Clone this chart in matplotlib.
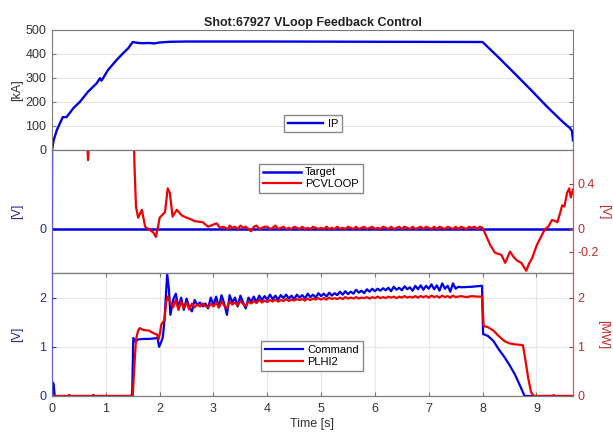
import matplotlib
matplotlib.use("Agg")
import matplotlib.pyplot as plt
import numpy as np

# ---------------- data ----------------
# top panel: plasma current IP [kA]
ip_t = [0, 0.03, 0.09, 0.2, 0.27, 0.4, 0.52, 0.67, 0.83, 0.89, 0.92, 1.04, 1.2, 1.32, 1.42, 1.5,
        1.6, 1.7, 1.8, 1.9, 2.0, 2.2, 2.5, 4.0, 6.0, 8.0,
        8.3, 8.6, 8.9, 9.2, 9.5, 9.62, 9.66, 9.68]
ip_ka = [0, 40, 83, 137, 137, 175, 201, 243, 278, 299, 289, 333, 375, 403, 425, 450,
         446, 445, 446, 444, 448, 451, 452, 452, 451, 450,
         385, 318, 250, 180, 115, 92, 80, 40]

# middle panel: target (left axis) and PCVLOOP (right axis) [V]
target_t = [0, 9.7]
target_v = [0, 0]

pcv_t_a = [0, 0.005, 0.6, 0.64, 0.67, 0.7, 0.74, 1.5, 1.53, 1.56, 1.6, 1.67, 1.73, 1.82, 1.88,
           1.93, 1.97, 2.0, 2.1, 2.15, 2.19, 2.24, 2.32, 2.41, 2.5, 2.56, 2.65, 2.8, 2.9,
           3.0, 3.06, 3.12, 3.18, 3.27]
pcv_v_a = [0, 1.5, 1.5, 0.9, 0.61, 0.9, 1.5, 1.5, 0.6, 0.2, 0.1, 0.17, 0.02, -0.01, -0.03,
           -0.07, 0.02, 0.1, 0.15, 0.36, 0.32, 0.11, 0.17, 0.12, 0.1, 0.09, 0.07, 0.06, 0.02,
           0.04, 0.05, 0.01, 0.02, 0.0]
# flat-top wiggle, one sample every 0.05 s from 3.30 s
pcv_flat = [0.03, 0.01, 0.02, 0.00, 0.03, 0.01, 0.02, 0.00, -0.02, 0.02,
            0.03, 0.00, 0.01, 0.02, 0.02, 0.00, 0.01, 0.03, 0.00, 0.01,
            0.02, 0.00, 0.01, 0.00, 0.02, 0.01, 0.00, 0.02, 0.00, 0.01,
            0.00, 0.02, 0.01, 0.00, 0.01, 0.00, 0.02, 0.00, 0.01, 0.00,
            0.02, 0.00, 0.01, 0.00, 0.02, 0.01, 0.00, 0.02, 0.00, 0.01,
            0.02, 0.00, 0.01, 0.02, 0.00, 0.01, 0.00, 0.02, 0.01, 0.00,
            0.02, 0.00, 0.01, 0.02, 0.00, 0.02, 0.01, 0.00, 0.02, 0.00,
            0.01, 0.02, 0.00, 0.02, 0.01, 0.00, 0.02, 0.00, 0.02, 0.01,
            0.00, 0.02, 0.01, 0.00, 0.02, 0.00, 0.02, 0.01, 0.00, 0.02,
            0.01, 0.02, 0.00, 0.02]
pcv_t_b = [8.0, 8.14, 8.23, 8.35, 8.42, 8.51, 8.58, 8.64, 8.72, 8.81, 8.87, 8.92, 9.01, 9.16,
           9.22, 9.29, 9.35, 9.39, 9.44, 9.48, 9.52, 9.57, 9.61, 9.64, 9.68]
pcv_v_b = [0.01, -0.14, -0.21, -0.23, -0.3, -0.2, -0.25, -0.28, -0.3, -0.37, -0.3, -0.26, -0.14, 0.0,
           0.02, 0.08, 0.07, 0.06, 0.14, 0.21, 0.2, 0.32, 0.36, 0.28, 0.35]

# bottom panel: Command [V] (left) and PLHI2 [MW] (right)
cmd_t_a = [0, 0.01, 0.03, 0.05, 0.3, 0.32, 0.34, 0.75, 0.77, 0.79, 1.47, 1.49, 1.51, 1.55, 1.6,
           1.7, 1.8, 1.9, 1.96, 1.99, 2.03, 2.06, 2.09, 2.12, 2.14, 2.17, 2.2]
cmd_v_a = [0, 0.28, 0.25, 0.0, 0.0, 0.02, 0.0, 0.0, 0.02, 0.0, 0.0, 0.05, 1.18, 1.1, 1.15,
           1.16, 1.16, 1.17, 1.18, 1.0, 1.1, 1.2, 1.55, 2.1, 2.48, 2.2, 1.65]
# one sample every 0.05 s from 2.25 s to 7.50 s
cmd_flat = [1.95, 2.08, 1.80, 2.00, 1.75, 1.98, 1.80, 1.72, 1.95, 1.85,
            1.90, 1.82, 1.88, 1.78, 2.00, 1.85, 2.02, 1.80, 2.05, 1.88,
            1.65, 2.05, 1.90, 2.00, 1.82, 2.04, 1.90, 1.78, 2.00, 1.92,
            2.02, 1.90, 2.04, 1.95, 2.03, 1.96, 2.06, 1.97, 2.04, 1.96,
            2.05, 1.99, 2.06, 1.98, 2.04, 1.97, 2.06, 2.00, 2.05, 1.98,
            2.08, 2.01, 2.06, 2.00, 2.09, 2.03, 2.08, 2.02, 2.10, 2.04,
            2.09, 2.05, 2.12, 2.06, 2.13, 2.07, 2.12, 2.08, 2.16, 2.10,
            2.14, 2.09, 2.17, 2.12, 2.18, 2.13, 2.18, 2.14, 2.19, 2.15,
            2.20, 2.13, 2.22, 2.16, 2.20, 2.15, 2.23, 2.17, 2.21, 2.14,
            2.24, 2.17, 2.25, 2.16, 2.24, 2.18, 2.27, 2.17, 2.25, 2.14,
            2.29, 2.18, 2.24, 2.12, 2.29, 2.18]
cmd_t_b = [7.55, 7.6, 7.8, 7.99, 8.01, 8.1, 8.2, 8.3, 8.4, 8.5, 8.6, 8.7, 8.78, 9.68]
cmd_v_b = [2.22, 2.21, 2.22, 2.24, 1.26, 1.22, 1.12, 0.95, 0.8, 0.63, 0.44, 0.2, 0.0, 0.0]

plh_t_a = [0, 0.3, 0.32, 0.34, 1.5, 1.53, 1.56, 1.6, 1.63, 1.7, 1.8, 1.85, 1.9, 1.95, 1.98,
           2.01, 2.03, 2.06, 2.09, 2.12, 2.15, 2.2]
plh_v_a = [0, 0, 0.02, 0, 0, 0.6, 1.15, 1.33, 1.38, 1.34, 1.33, 1.3, 1.27, 1.25, 1.15,
           1.3, 1.45, 1.5, 1.55, 1.9, 2.02, 1.9]
plh_flat = [1.80, 1.95, 1.75, 1.92, 1.78, 1.90, 1.76, 1.88, 1.80, 1.86,
            1.82, 1.88, 1.83, 1.80, 1.87, 1.82, 1.90, 1.80, 1.92, 1.84,
            1.78, 1.92, 1.86, 1.90, 1.84, 1.93, 1.87, 1.83, 1.92, 1.88,
            1.93, 1.89, 1.95, 1.90, 1.94, 1.91, 1.95, 1.92, 1.96, 1.92,
            1.95, 1.93, 1.97, 1.93, 1.96, 1.94, 1.97, 1.95, 1.97, 1.94,
            1.98, 1.95, 1.98, 1.96, 1.99, 1.96, 1.99, 1.96, 2.00, 1.97,
            1.99, 1.97, 2.00, 1.97, 2.01, 1.98, 2.00, 1.98, 2.01, 1.98,
            2.00, 1.99, 2.01, 1.98, 2.01, 1.99, 2.02, 1.99, 2.01, 1.99,
            2.02, 2.00, 2.02, 1.99, 2.02, 2.00, 2.03, 2.00, 2.02, 2.00,
            2.03, 2.00, 2.03, 2.01, 2.03, 2.00, 2.04, 2.01, 2.03, 2.00,
            2.04, 2.01, 2.03, 2.00, 2.04, 2.01]
plh_t_b = [7.6, 7.7, 7.8, 7.9, 7.99, 8.02, 8.1, 8.2, 8.3, 8.4, 8.5, 8.6, 8.7, 8.75, 8.8,
           8.85, 8.9, 8.95, 9.3, 9.32, 9.34, 9.68]
plh_v_b = [2.03, 2.01, 2.03, 2.02, 2.02, 1.42, 1.4, 1.33, 1.22, 1.12, 1.07, 1.05, 1.04, 1.03, 0.7,
           0.35, 0.08, 0.0, 0.0, 0.02, 0.0, 0.0]

x_ticks = [0, 1, 2, 3, 4, 5, 6, 7, 8, 9]

# ---------------- build full series ----------------
pcv_t = pcv_t_a + [round(3.30 + 0.05 * i, 2) for i in range(len(pcv_flat))] + pcv_t_b
pcv_v = pcv_v_a + pcv_flat + pcv_v_b
cmd_t = cmd_t_a + [round(2.25 + 0.05 * i, 2) for i in range(len(cmd_flat))] + cmd_t_b
cmd_v = cmd_v_a + cmd_flat + cmd_v_b
plh_t = plh_t_a + [round(2.25 + 0.05 * i, 2) for i in range(len(plh_flat))] + plh_t_b
plh_v = plh_v_a + plh_flat + plh_v_b

plt.rcParams["font.family"] = ["Liberation Sans", "DejaVu Sans"]
plt.rcParams["font.size"] = 9

BLUE = "#0000e6"
RED = "#f00000"
LBLUE = "#2a2aa0"
LRED = "#c42a2a"
GREY = "#7a7a7a"
TXT = "#333333"
GRID = "#e6e6e6"
TICK_FS = 9
LAB_FS = 9
LEG_FS = 8

fig = plt.figure(figsize=(6.13, 4.38), dpi=100)
L, W = 52 / 613, 521 / 613
ax1 = fig.add_axes([L, 288 / 438, W, 120 / 438])
ax2 = fig.add_axes([L, 165 / 438, W, 123 / 438])
ax3 = fig.add_axes([L, 42 / 438, W, 123 / 438])
ax2r = ax2.twinx()
ax3r = ax3.twinx()

XMAX = 9.68
for ax in (ax1, ax2, ax3):
    ax.set_xlim(0, XMAX)
    ax.set_xticks(x_ticks)

# ---- top panel ----
ax1.plot(ip_t, ip_ka, color=BLUE, lw=1.7, label="IP")
ax1.set_ylim(0, 500)
ax1.set_yticks([0, 100, 200, 300, 400, 500])
ax1.grid(axis="y", color=GRID, lw=0.8)
ax1.tick_params(axis="x", length=0, labelbottom=False)
ax1.tick_params(axis="y", direction="in", right=True, length=3, colors=GREY,
                labelcolor=TXT, labelsize=TICK_FS, pad=4)
for s in ax1.spines.values():
    s.set_color(GREY)
    s.set_linewidth(0.8)
ax1.set_ylabel("[kA]", color=TXT, fontsize=LAB_FS)
ax1.yaxis.set_label_coords(-0.055, 0.5)
ax1.set_title("Shot:67927 VLoop Feedback Control", fontsize=9, fontweight="bold",
              color="#222222", pad=3)
ax1.legend(loc="center", bbox_to_anchor=(0.501, 0.22), fancybox=False, edgecolor="#888888",
           framealpha=1, fontsize=LEG_FS, handlelength=3.2, handletextpad=0.4, borderpad=0.35)

# ---- middle panel ----
ax2.plot(target_t, target_v, color=BLUE, lw=1.8, label="Target")
ax2r.plot(pcv_t, pcv_v, color=RED, lw=1.6, label="PCVLOOP")
for a in (ax2, ax2r):
    a.set_ylim(-0.39, 0.70)
ax2.set_yticks([0])
ax2r.set_yticks([-0.2, 0, 0.4])
ax2r.set_yticklabels(["-0.2", "0", "0.4"])
ax2.tick_params(axis="x", length=0, labelbottom=False)
ax2.tick_params(axis="y", direction="in", length=3, colors=LBLUE, labelsize=TICK_FS, pad=4)
ax2r.tick_params(axis="y", direction="in", length=3, colors=LRED, labelsize=TICK_FS, pad=3)
for a in (ax2, ax2r):
    for s in a.spines.values():
        s.set_color(GREY)
        s.set_linewidth(0.8)
    a.spines["left"].set_color("#6060d0")
    a.spines["right"].set_color("#e05050")
ax2.set_ylabel("[V]", color=LBLUE, fontsize=LAB_FS)
ax2.yaxis.set_label_coords(-0.055, 0.5)
ax2r.set_ylabel("[V]", color=LRED, fontsize=LAB_FS, rotation=270, va="center")
ax2r.yaxis.set_label_coords(1.06, 0.5)
h2 = ax2.get_legend_handles_labels()[0] + ax2r.get_legend_handles_labels()[0]
ax2r.legend(h2, [h.get_label() for h in h2], loc="center", bbox_to_anchor=(0.497, 0.77),
            fancybox=False, edgecolor="#888888", framealpha=1, fontsize=LEG_FS,
            handlelength=3.4, handletextpad=0.4, borderpad=0.35, labelspacing=0.15)

# ---- bottom panel ----
ax3.plot(cmd_t, cmd_v, color=BLUE, lw=1.6, label="Command")
ax3r.plot(plh_t, plh_v, color=RED, lw=1.6, label="PLHI2")
for a in (ax3, ax3r):
    a.set_ylim(0, 2.5)
    a.set_yticks([0, 1, 2])
ax3.grid(color=GRID, lw=0.8)
ax3.set_axisbelow(True)
ax3.tick_params(axis="x", direction="in", top=True, length=3, colors=GREY, labelcolor=TXT,
                labelsize=TICK_FS, pad=5)
ax3.tick_params(axis="y", direction="in", length=3, colors=LBLUE, labelsize=TICK_FS, pad=4)
ax3r.tick_params(axis="y", direction="in", length=3, colors=LRED, labelsize=TICK_FS, pad=3)
for a in (ax3, ax3r):
    for s in a.spines.values():
        s.set_color(GREY)
        s.set_linewidth(0.8)
    a.spines["left"].set_color("#6060d0")
    a.spines["right"].set_color("#e05050")
ax3.set_ylabel("[V]", color=LBLUE, fontsize=LAB_FS)
ax3.yaxis.set_label_coords(-0.055, 0.5)
ax3r.set_ylabel("[MW]", color=LRED, fontsize=LAB_FS, rotation=270, va="center")
ax3r.yaxis.set_label_coords(1.058, 0.5)
ax3.set_xlabel("Time [s]", color=TXT, fontsize=LAB_FS, labelpad=2)
h3 = ax3.get_legend_handles_labels()[0] + ax3r.get_legend_handles_labels()[0]
ax3r.legend(h3, [h.get_label() for h in h3], loc="center", bbox_to_anchor=(0.499, 0.325),
            fancybox=False, edgecolor="#888888", framealpha=1, fontsize=LEG_FS,
            handlelength=3.4, handletextpad=0.4, borderpad=0.35, labelspacing=0.15)

fig.savefig("out.png", dpi=100, facecolor="white")
